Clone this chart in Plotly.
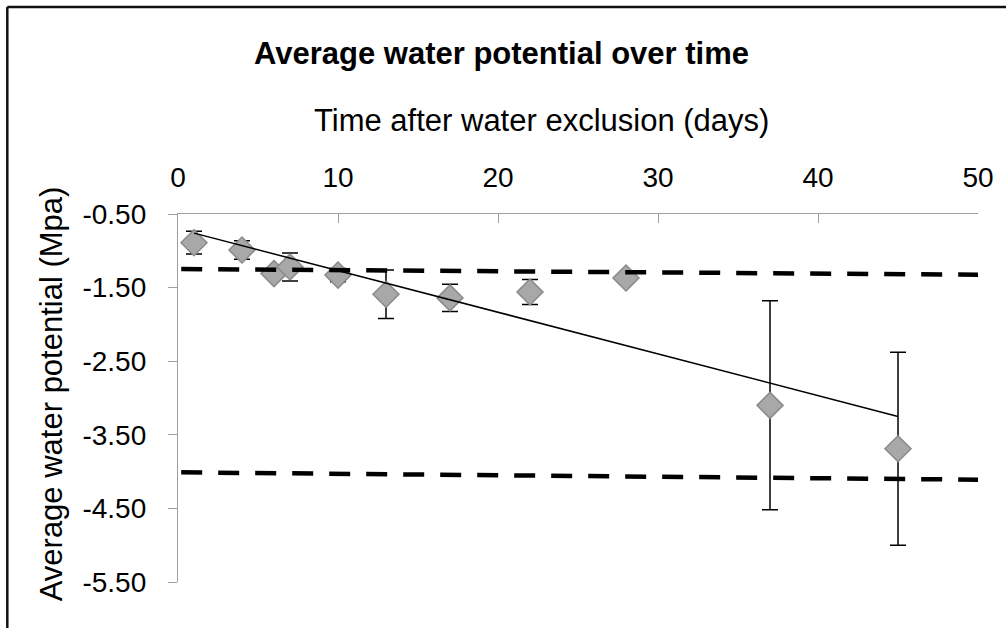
import plotly.graph_objects as go

# ---- data ----
days = [1, 4, 6, 7, 10, 13, 17, 22, 28, 37, 45]
water_potential = [-0.89, -0.99, -1.31, -1.22, -1.33, -1.59, -1.64, -1.56, -1.37, -3.10, -3.69]
error = [0.155, 0.125, 0.05, 0.19, 0.09, 0.33, 0.185, 0.17, 0.05, 1.42, 1.31]

trend_x = [1, 45]
trend_y = [-0.76, -3.25]

upper_ref_x = [0.2, 50]
upper_ref_y = [-1.247, -1.325]
lower_ref_x = [0.2, 50]
lower_ref_y = [-4.01, -4.11]

x_ticks = [0, 10, 20, 30, 40, 50]
y_ticks = [-0.5, -1.5, -2.5, -3.5, -4.5, -5.5]
y_tick_text = ["-0.50", "-1.50", "-2.50", "-3.50", "-4.50", "-5.50"]

title_text = "Average water potential over time"
x_title = "Time after water exclusion (days)"
y_title = "Average water potential (Mpa)"

FONT = "Liberation Sans, Arial, Helvetica, sans-serif"
AXIS_GRAY = "#9E9E9E"

W, H = 1006, 628
PL, PR, PT, PB = 177.7, 977.7, 214, 582  # plot area in page pixels
L, T, R, B = PL, PT, W - PR, H - PB
pw = W - L - R
ph = H - T - B


def px_x(px):
    return (px - L) / pw


def px_y(py):
    return (H - B - py) / ph


fig = go.Figure()

fig.add_trace(go.Scatter(
    x=days, y=water_potential, mode="markers",
    marker=dict(symbol="diamond", size=20, color="#A8A8A8",
                line=dict(color="#8A8A8A", width=1.5)),
    error_y=dict(type="data", array=error, visible=True,
                 color="black", thickness=1.5, width=8),
    showlegend=False, hoverinfo="skip",
))

fig.add_trace(go.Scatter(
    x=trend_x, y=trend_y, mode="lines",
    line=dict(color="black", width=1.5),
    showlegend=False, hoverinfo="skip",
))

for xs, ys in [(upper_ref_x, upper_ref_y), (lower_ref_x, lower_ref_y)]:
    fig.add_trace(go.Scatter(
        x=xs, y=ys, mode="lines",
        line=dict(color="black", width=4.5, dash="21px,16px"),
        showlegend=False, hoverinfo="skip",
    ))

fig.update_layout(
    width=W, height=H,
    margin=dict(l=L, r=R, t=T, b=B, pad=0),
    paper_bgcolor="white", plot_bgcolor="white",
    font=dict(family=FONT, color="black"),
    xaxis=dict(
        side="top", range=[0, 50], tickvals=x_ticks,
        ticks="inside", ticklen=9, tickwidth=1.3, tickcolor=AXIS_GRAY,
        showline=True, linecolor=AXIS_GRAY, linewidth=1.3,
        showgrid=False, zeroline=False,
        tickfont=dict(size=28, family=FONT, color="black"),
        ticklabelstandoff=15,
    ),
    yaxis=dict(
        range=[-5.5, -0.5], tickvals=y_ticks, ticktext=y_tick_text,
        ticks="outside", ticklen=9, tickwidth=1.3, tickcolor=AXIS_GRAY,
        showline=True, linecolor=AXIS_GRAY, linewidth=1.3,
        showgrid=False, zeroline=False,
        tickfont=dict(size=28, family=FONT, color="black"),
        ticklabelstandoff=16,
    ),
    annotations=[
        dict(text="<b>" + title_text + "</b>", xref="paper", yref="paper",
             x=px_x(501.5), y=px_y(53), xanchor="center", yanchor="middle",
             showarrow=False, font=dict(size=31, family=FONT, color="black")),
        dict(text=x_title, xref="paper", yref="paper",
             x=px_x(541), y=px_y(120), xanchor="center", yanchor="middle",
             showarrow=False, font=dict(size=31, family=FONT, color="black")),
        dict(text=y_title, xref="paper", yref="paper", textangle=-90,
             x=px_x(51), y=px_y(394), xanchor="center", yanchor="middle",
             showarrow=False, font=dict(size=31, family=FONT, color="black")),
    ],
    shapes=[
        dict(type="line", xref="paper", yref="paper",
             x0=px_x(7), x1=px_x(7), y0=px_y(7), y1=px_y(700),
             line=dict(color="#111111", width=2.5)),
        dict(type="line", xref="paper", yref="paper",
             x0=px_x(7), x1=px_x(1100), y0=px_y(7), y1=px_y(7),
             line=dict(color="#111111", width=2.5)),
    ],
)

fig.write_html(
    "out.html",
    config={"displayModeBar": False},
    post_script="document.body.style.margin='0';document.body.style.overflow='hidden';",
)
